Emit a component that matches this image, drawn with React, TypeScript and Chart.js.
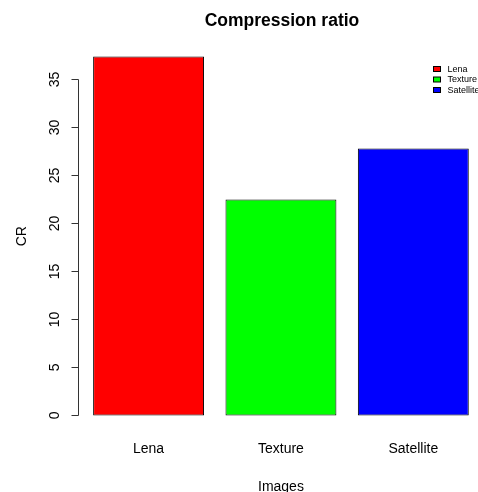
import React, { useEffect, useRef } from "react";
import { Chart, registerables } from "chart.js";

Chart.register(...registerables);

const categories: string[] = ["Lena", "Texture", "Satellite"];
const crValues: number[] = [37.4, 22.5, 27.8];
const barColors: string[] = ["#FF0000", "#00FF00", "#0000FF"];
const yTicks: number[] = [0, 5, 10, 15, 20, 25, 30, 35];
const titleText = "Compression ratio";
const xTitle = "Images";
const yTitle = "CR";

const FONT = '"Liberation Sans", Arial, sans-serif';

const rAxesPlugin = {
  id: "rAxes",
  afterDraw(chart: any) {
    const ctx: CanvasRenderingContext2D = chart.ctx;
    const x = chart.scales.x;
    const y = chart.scales.y;
    const area = chart.chartArea;
    const midX = (area.left - 4 + area.right + 4) / 2;
    ctx.save();
    ctx.fillStyle = "#000";
    ctx.strokeStyle = "#000";
    ctx.lineWidth = 1;

    // title
    ctx.font = `bold 17.5px ${FONT}`;
    ctx.textAlign = "center";
    ctx.textBaseline = "alphabetic";
    ctx.fillText(titleText, midX + 1, 25.5);

    // y axis
    const axX = 78.5;
    const y0 = Math.round(y.getPixelForValue(yTicks[0])) + 0.5;
    const y1 = Math.round(y.getPixelForValue(yTicks[yTicks.length - 1])) + 0.5;
    ctx.strokeStyle = "#333";
    ctx.beginPath();
    ctx.moveTo(axX, y0);
    ctx.lineTo(axX, y1);
    for (const t of yTicks) {
      const py = Math.round(y.getPixelForValue(t)) + 0.5;
      ctx.moveTo(axX, py);
      ctx.lineTo(axX - 7, py);
    }
    ctx.stroke();

    ctx.font = `14px ${FONT}`;
    for (const t of yTicks) {
      const py = y.getPixelForValue(t);
      ctx.save();
      ctx.translate(59, py);
      ctx.rotate(-Math.PI / 2);
      ctx.textAlign = "center";
      ctx.fillText(String(t), 0, 0);
      ctx.restore();
    }

    // y title
    ctx.save();
    ctx.translate(26, (area.top + area.bottom) / 2);
    ctx.rotate(-Math.PI / 2);
    ctx.textAlign = "center";
    ctx.fillText(yTitle, 0, 0);
    ctx.restore();

    // x labels
    ctx.textAlign = "center";
    categories.forEach((c, i) => {
      ctx.fillText(c, x.getPixelForValue(i), 453);
    });
    ctx.fillText(xTitle, midX, 491);

    // legend
    ctx.font = `9px ${FONT}`;
    ctx.textAlign = "left";
    ctx.textBaseline = "middle";
    categories.forEach((c, i) => {
      const by = 66.5 + i * 10.5;
      ctx.fillStyle = barColors[i];
      ctx.fillRect(433.5, by, 7, 5);
      ctx.strokeStyle = "#000";
      ctx.strokeRect(433.5, by, 7, 5);
      ctx.fillStyle = "#000";
      ctx.fillText(c, 447.5, by + 3);
    });

    ctx.restore();
  },
};

export default function App() {
  const ref = useRef<HTMLCanvasElement | null>(null);
  useEffect(() => {
    if (!ref.current) return;
    const chart = new Chart(ref.current, {
      type: "bar",
      data: {
        labels: categories,
        datasets: [
          {
            label: yTitle,
            data: crValues,
            backgroundColor: barColors,
            borderColor: "#000",
            borderWidth: 1,
            borderSkipped: false,
            barPercentage: 1,
            categoryPercentage: 0.838,
          },
        ],
      },
      options: {
        responsive: false,
        animation: false,
        devicePixelRatio: 1,
        layout: { padding: { left: 82.4, right: 0.5, top: 42, bottom: 61.6 } },
        plugins: {
          legend: { display: false },
          title: { display: false },
          tooltip: { enabled: false },
        },
        scales: {
          x: { type: "category", display: false, offset: true },
          y: { type: "linear", display: false, min: -1.556, max: 38.9 },
        },
      },
      plugins: [rAxesPlugin],
    });
    return () => chart.destroy();
  }, []);
  return (
    <div
      style={{
        position: "fixed",
        left: 0,
        top: 0,
        width: 478,
        height: 492,
        overflow: "hidden",
        background: "#fff",
      }}
    >
      <canvas ref={ref} width={480} height={492} style={{ width: 480, height: 492, display: "block" }} />
    </div>
  );
}
